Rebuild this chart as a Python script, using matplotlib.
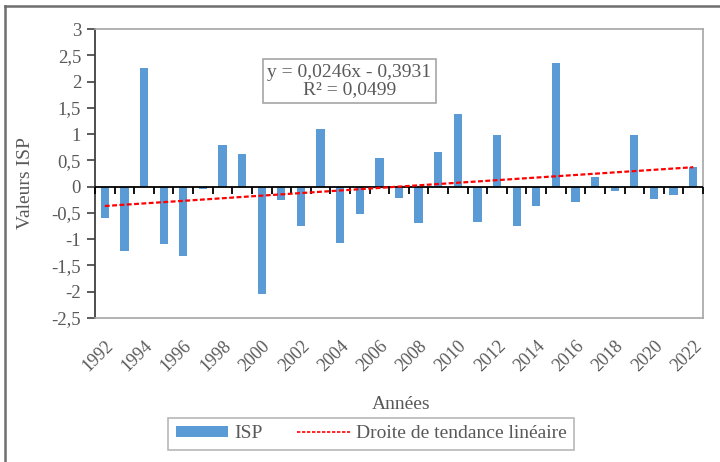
import numpy as np
import matplotlib.pyplot as plt
from matplotlib.lines import Line2D, TICKDOWN

plt.rcParams['font.family'] = ['Liberation Serif', 'DejaVu Serif']

years = list(range(1992, 2023))
isp = [-0.60, -1.22, 2.25, -1.10, -1.32, -0.05, 0.80, 0.62, -2.05, -0.25,
       -0.75, 1.10, -1.07, -0.52, 0.55, -0.22, -0.70, 0.66, 1.38, -0.67,
       0.98, -0.74, -0.36, 2.36, -0.30, 0.19, -0.08, 0.98, -0.23, -0.15,
       0.37]
slope, intercept = 0.0246, -0.3931
r2 = 0.0499

grey_txt = '#595959'
bar_col = '#5b9bd5'

x = np.arange(1, len(years) + 1)
trend = slope * x + intercept

fig = plt.figure(figsize=(7.2, 4.62), dpi=100)
ax = fig.add_axes([95 / 720, 1 - 318 / 462, 608 / 720, 289 / 462])

bars = ax.bar(x, isp, width=0.42, color=bar_col, zorder=2, label='ISP')
tl, = ax.plot(x, trend, color='#ff0000', lw=1.6, linestyle=(0, (2.2, 1.1)),
              zorder=4, label='Droite de tendance linéaire')

# category axis sits on zero with ticks between bars
ax.axhline(0, color='black', lw=1.3, zorder=3)
bounds = np.arange(0.5, len(years) + 1, 1.0)
ax.plot(bounds, np.zeros_like(bounds), linestyle='none', marker=TICKDOWN,
        markersize=5, color='black', markeredgewidth=1.3, zorder=3,
        clip_on=False)

ax.set_xlim(0.5, len(years) + 0.5)
ax.set_ylim(-2.5, 3)
yt = np.arange(-2.5, 3.01, 0.5)
ax.set_yticks(yt)
ax.set_yticklabels([('%g' % v).replace('.', ',') for v in yt])
ax.set_xticks(x[::2])
ax.set_xticklabels([str(y) for y in years[::2]], rotation=45, ha='right',
                   rotation_mode='anchor')
ax.tick_params(axis='x', length=0, pad=14, labelsize=13, labelcolor=grey_txt)
ax.tick_params(axis='y', length=6, width=1.2, color='#404040', pad=4,
               labelsize=13.5, labelcolor=grey_txt)

for s in ['top', 'right', 'bottom']:
    ax.spines[s].set_color('#a6a6a6')
    ax.spines[s].set_linewidth(1.2)
ax.spines['left'].set_color('#404040')
ax.spines['left'].set_linewidth(1.3)

ax.set_ylabel('Valeurs ISP', fontsize=14, color=grey_txt)
ax.yaxis.set_label_coords(-0.1, 0.467)
ax.set_xlabel('Années', fontsize=14, color=grey_txt)
ax.xaxis.set_label_coords(0.503, -0.27)

eq = 'y = %sx - %s\nR² = %s' % (('%.4f' % slope).replace('.', ','),
                                 ('%.4f' % -intercept).replace('.', ','),
                                 ('%.4f' % r2).replace('.', ','))
ax.text((349.5 - 95) / 608, (318 - 81) / 289, eq, transform=ax.transAxes,
        ha='center', va='center', multialignment='center', fontsize=14,
        color=grey_txt, linespacing=1.05, zorder=5,
        bbox=dict(boxstyle='square,pad=0.22', fc='white', ec='#a6a6a6',
                  lw=1.2))

leg = fig.legend(handles=[bars, tl], loc='center',
                 bbox_to_anchor=(371 / 720, 1 - 434 / 462), ncol=2,
                 fontsize=14, frameon=True, fancybox=False,
                 edgecolor='#a6a6a6', handlelength=2.7, handleheight=0.55,
                 handletextpad=0.3, columnspacing=1.8, borderpad=0.4,
                 borderaxespad=0)
leg.get_frame().set_linewidth(1.2)
for t in leg.get_texts():
    t.set_color(grey_txt)
leg.legend_handles[1].set_linestyle((0, (2, 1)))
leg.legend_handles[1].set_linewidth(1.2)

# chart frame
fig.add_artist(Line2D([5 / 720, 5 / 720], [0, 1 - 6 / 462],
                      transform=fig.transFigure, color='#6e6e6e', lw=1.8))
fig.add_artist(Line2D([5 / 720, 1], [1 - 6 / 462, 1 - 6 / 462],
                      transform=fig.transFigure, color='#6e6e6e', lw=1.8))

fig.savefig('out.png', dpi=100)
